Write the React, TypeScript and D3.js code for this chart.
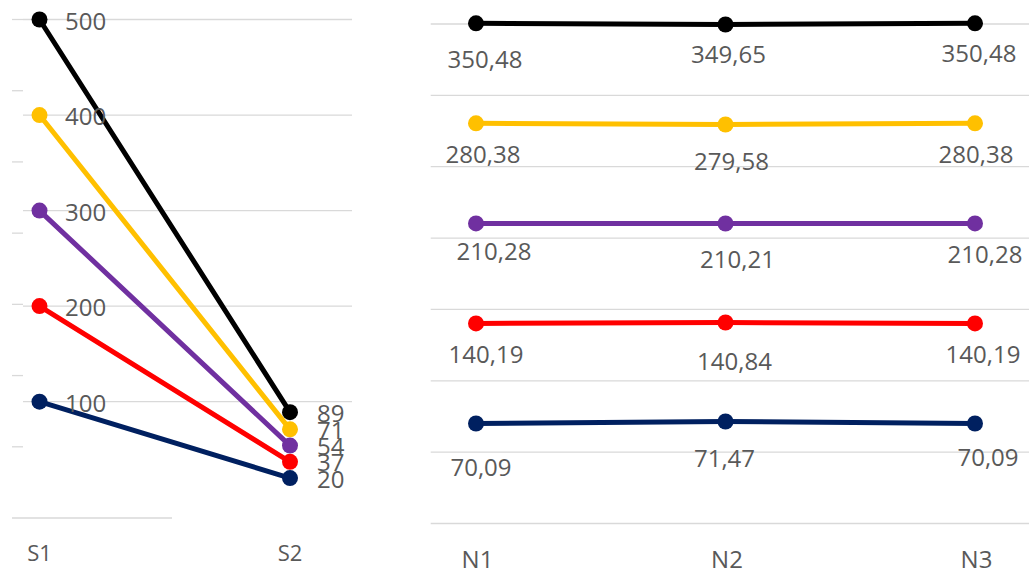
import React from 'react';
import * as d3 from 'd3';

// Series colours, shared by both panels (top to bottom)
const seriesColors = ['#000000', '#FFC000', '#7030A0', '#FF0000', '#002060'];

// Left panel: two-point slope chart
const leftCategories = ['S1', 'S2'];
const leftStart = [500, 400, 300, 200, 100];
const leftEnd = [89, 71, 54, 37, 20];
const leftGridValues = [100, 200, 300, 400, 500];

// Faint guide ticks along the far left edge
const guideTicks = [0, 50, 100, 150, 200, 250, 300, 350];

// Right panel: three-point lines with data labels
const rightCategories = ['N1', 'N2', 'N3'];
const rightBlack = [350.48, 349.65, 350.48];
const rightYellow = [280.38, 279.58, 280.38];
const rightPurple = [210.28, 210.21, 210.28];
const rightRed = [140.19, 140.84, 140.19];
const rightNavy = [70.09, 71.47, 70.09];
const rightGridValues = [0, 50, 100, 150, 200, 250, 300, 350];

// Hand-placed label nudges [dx, dy] from each point (px)
const rightLabelNudges: [number, number][][] = [
  [[9, 36], [3, 30], [4, 30]],
  [[7, 31], [6, 37], [1, 31]],
  [[18, 28], [12, 36], [10, 31]],
  [[10, 31], [9, 39], [8, 31]],
  [[5, 44], [-1, 37], [13, 34]],
];

const FONT = "'Open Sans', 'Noto Sans', sans-serif";
const TEXT = '#595959';
const GRID = '#d9d9d9';
const W = 1029;
const H = 572;

const fmt = (v: number) => v.toFixed(2).replace('.', ',');

export default function App() {
  const rightSeries = [rightBlack, rightYellow, rightPurple, rightRed, rightNavy];
  const leftSeries = leftStart.map((s, i) => [s, leftEnd[i]]);

  // Scales
  const xL = d3.scalePoint<string>().domain(leftCategories).range([39.5, 290]);
  const yL = d3.scaleLinear().domain([0, 500]).range([497.2, 19.5]);
  const yGuide = d3.scaleLinear().domain([0, 350]).range([518, 19.5]);
  const xR = d3.scalePoint<string>().domain(rightCategories).range([476, 975]);
  const yR = d3.scaleLinear().domain([0, 350]).range([523.5, 24]);

  const lineL = d3
    .line<number>()
    .x((_, i) => xL(leftCategories[i]) as number)
    .y((d) => yL(d));
  const lineR = d3
    .line<number>()
    .x((_, i) => xR(rightCategories[i]) as number)
    .y((d) => yR(d));

  return (
    <svg
      width={W}
      height={H}
      style={{ position: 'absolute', left: 0, top: 0, background: '#fff' }}
      fontFamily={FONT}
    >
      {/* guide ticks on the far left */}
      <g stroke={GRID} strokeWidth={1.3}>
        {guideTicks.map((t, i) => (
          <line
            key={t}
            x1={12}
            x2={i === 0 ? 172 : 23}
            y1={yGuide(t)}
            y2={yGuide(t)}
          />
        ))}
      </g>

      {/* left panel gridlines */}
      <g stroke={GRID} strokeWidth={1.3}>
        {leftGridValues.map((t) => (
          <line key={t} x1={23} x2={352} y1={yL(t)} y2={yL(t)} />
        ))}
      </g>

      {/* left panel lines */}
      {leftSeries.map((vals, i) => (
        <g key={i}>
          <path
            d={lineL(vals) as string}
            fill="none"
            stroke={seriesColors[i]}
            strokeWidth={5}
            strokeLinecap="round"
          />
        </g>
      ))}
      {leftSeries.map((vals, i) => (
        <g key={'m' + i} fill={seriesColors[i]}>
          {vals.map((v, j) => (
            <circle key={j} cx={xL(leftCategories[j])} cy={yL(v)} r={8} />
          ))}
        </g>
      ))}
      {/* left panel value labels */}
      <g fill={TEXT} fontSize={24}>
        {leftStart.map((v, i) => (
          <text key={'s' + i} x={(xL('S1') as number) + 25.5} y={yL(v) + 1.5} dy="0.36em">
            {v}
          </text>
        ))}
        {leftEnd.map((v, i) => (
          <text key={'e' + i} x={(xL('S2') as number) + 27} y={yL(v) + 1} dy="0.36em">
            {v}
          </text>
        ))}
      </g>
      {/* left panel category labels */}
      <g fill={TEXT} fontSize={22} textAnchor="middle">
        {leftCategories.map((c) => (
          <text key={c} x={xL(c)} y={553} dy="0.36em">
            {c}
          </text>
        ))}
      </g>

      {/* right panel gridlines */}
      <g stroke={GRID} strokeWidth={1.3}>
        {rightGridValues.map((t) => (
          <line key={t} x1={430.7} x2={W} y1={yR(t)} y2={yR(t)} />
        ))}
      </g>

      {/* right panel lines and markers */}
      {rightSeries.map((vals, i) => (
        <g key={'r' + i}>
          <path
            d={lineR(vals) as string}
            fill="none"
            stroke={seriesColors[i]}
            strokeWidth={5}
            strokeLinecap="round"
          />
          {vals.map((v, j) => (
            <circle
              key={j}
              cx={xR(rightCategories[j])}
              cy={yR(v)}
              r={8}
              fill={seriesColors[i]}
            />
          ))}
        </g>
      ))}

      {/* right panel data labels */}
      <g fill={TEXT} fontSize={24} textAnchor="middle">
        {rightSeries.map((vals, i) =>
          vals.map((v, j) => {
            const [dx, dy] = rightLabelNudges[i][j];
            return (
              <text
                key={i + '-' + j}
                x={(xR(rightCategories[j]) as number) + dx}
                y={yR(v) + dy}
                dy="0.36em"
              >
                {fmt(v)}
              </text>
            );
          })
        )}
      </g>

      {/* right panel category labels */}
      <g fill={TEXT} fontSize={24} textAnchor="middle">
        {rightCategories.map((c) => (
          <text key={c} x={(xR(c) as number) + 1.5} y={559} dy="0.36em">
            {c}
          </text>
        ))}
      </g>
    </svg>
  );
}
